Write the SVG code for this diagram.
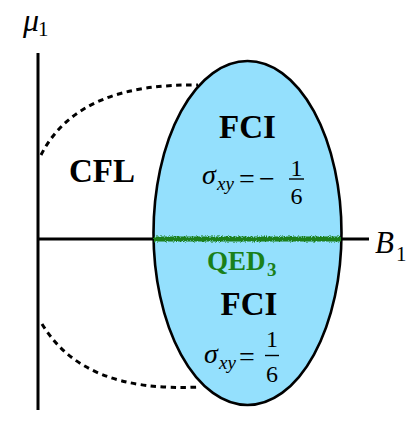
<svg xmlns="http://www.w3.org/2000/svg" width="415" height="432" viewBox="0 0 415 432">
<style>
.ax{stroke:#000;stroke-width:3;fill:none}
.dash{stroke:#000;stroke-width:3;fill:none;stroke-dasharray:5.5 4.5}
.bold{font-family:"Liberation Serif",serif;font-weight:bold;fill:#000}
.big{font-size:33px}
.green{fill:#1a801a}
.it{font-family:"Liberation Serif",serif;font-style:italic;fill:#000}
.rm{font-family:"Liberation Serif",serif;fill:#000}
.bar{stroke:#000;stroke-width:1.4}
</style>
<defs>
<filter id="rough" x="-5%" y="-200%" width="110%" height="500%">
<feTurbulence type="fractalNoise" baseFrequency="0.9" numOctaves="2" seed="3" result="n"/>
<feDisplacementMap in="SourceGraphic" in2="n" scale="4" xChannelSelector="R" yChannelSelector="G"/>
</filter>
</defs>
<g id="connectors">
<path class="dash" d="M41,155 C68,102 125,84 198,85"/>
<path class="dash" d="M42,324 C70,370 120,391 200,387"/>
<line class="ax" x1="38" y1="53" x2="38" y2="410"/>
<line class="ax" x1="38" y1="239" x2="369" y2="239"/>
</g>
<g id="fci-region">
<ellipse cx="247.5" cy="233" rx="94" ry="172" fill="#94e0fd" stroke="#000" stroke-width="2.6"/>
</g>
<g id="qed-line">
<rect x="154" y="236.5" width="187" height="5" fill="#1a801a" filter="url(#rough)"/>
</g>
<g id="axis-labels">
<text class="it" x="23" y="31" font-size="32">μ</text>
<text class="rm" x="38" y="36" font-size="21">1</text>
<text class="it" x="375" y="253" font-size="31">B</text>
<text class="rm" x="396" y="261" font-size="21">1</text>
</g>
<g id="cfl">
<text class="bold big" x="69" y="182">CFL</text>
</g>
<g id="fci-top">
<text class="bold big" x="247.5" y="138" text-anchor="middle">FCI</text>
<text class="it" x="202" y="184" font-size="28">σ</text>
<text class="it" x="217" y="190" font-size="19">xy</text>
<text class="rm" x="239" y="188" font-size="28">=</text>
<text class="rm" x="259" y="188" font-size="28">−</text>
<line class="bar" x1="289" y1="179" x2="304" y2="179"/>
<text class="rm" x="296.5" y="176" font-size="24" text-anchor="middle">1</text>
<text class="rm" x="296.5" y="204" font-size="24" text-anchor="middle">6</text>
</g>
<g id="qed">
<text class="bold green" x="207" y="270" font-size="27">QED</text>
<text class="bold green" x="267" y="276" font-size="19">3</text>
</g>
<g id="fci-bottom">
<text class="bold big" x="249" y="315" text-anchor="middle">FCI</text>
<text class="it" x="204" y="363" font-size="28">σ</text>
<text class="it" x="219" y="369" font-size="19">xy</text>
<text class="rm" x="239" y="366" font-size="28">=</text>
<line class="bar" x1="265" y1="355.5" x2="279" y2="355.5"/>
<text class="rm" x="272" y="347" font-size="24" text-anchor="middle">1</text>
<text class="rm" x="272" y="382" font-size="24" text-anchor="middle">6</text>
</g>
</svg>
